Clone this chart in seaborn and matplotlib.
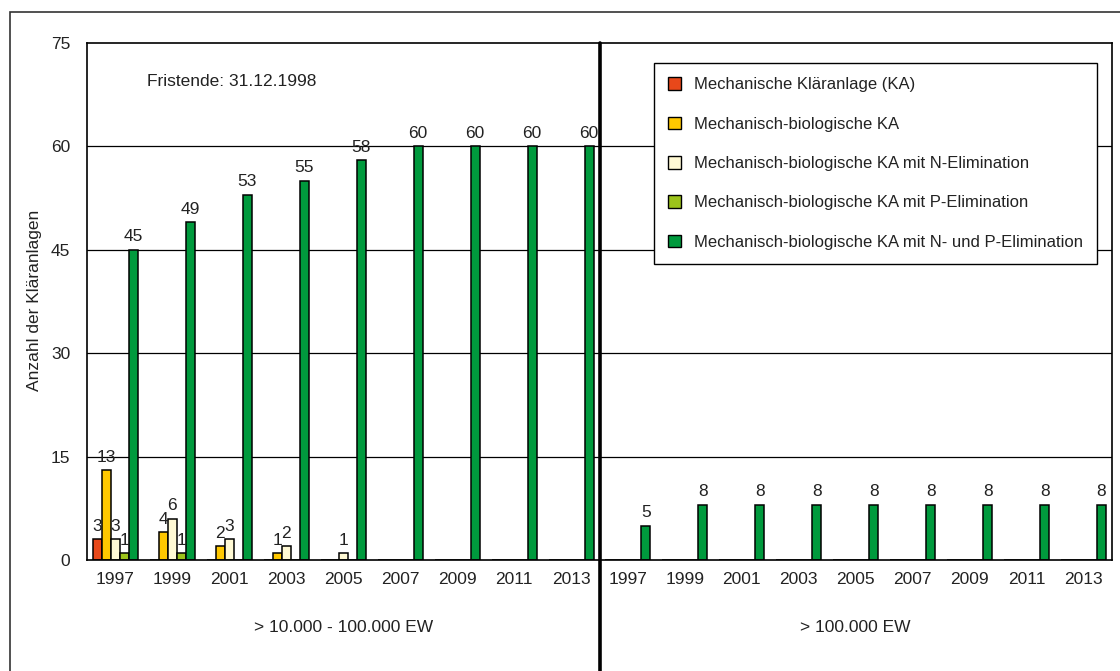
import numpy as np
import pandas as pd
import matplotlib
matplotlib.use("Agg")
import matplotlib.pyplot as plt
from matplotlib.patches import Patch, Rectangle
import seaborn as sns

# ---- data ----
years = ["1997", "1999", "2001", "2003", "2005", "2007", "2009", "2011", "2013"]
sections = ["> 10.000 - 100.000 EW", "> 100.000 EW"]
series = [
    "Mechanische Kläranlage (KA)",
    "Mechanisch-biologische KA",
    "Mechanisch-biologische KA mit N-Elimination",
    "Mechanisch-biologische KA mit P-Elimination",
    "Mechanisch-biologische KA mit N- und P-Elimination",
]
# section 1 (> 10.000 - 100.000 EW)
mech_1 = [3, 0, 0, 0, 0, 0, 0, 0, 0]
bio_1 = [13, 4, 2, 1, 0, 0, 0, 0, 0]
bio_n_1 = [3, 6, 3, 2, 1, 0, 0, 0, 0]
bio_p_1 = [1, 1, 0, 0, 0, 0, 0, 0, 0]
bio_np_1 = [45, 49, 53, 55, 58, 60, 60, 60, 60]
# section 2 (> 100.000 EW)
mech_2 = [0, 0, 0, 0, 0, 0, 0, 0, 0]
bio_2 = [0, 0, 0, 0, 0, 0, 0, 0, 0]
bio_n_2 = [0, 0, 0, 0, 0, 0, 0, 0, 0]
bio_p_2 = [0, 0, 0, 0, 0, 0, 0, 0, 0]
bio_np_2 = [5, 8, 8, 8, 8, 8, 8, 8, 8]

colors = ["#E8481A", "#FFC800", "#FFF9D4", "#9CC31B", "#009A3D"]

rows = []
keys = []
for s_idx, vals in enumerate([
    [mech_1, bio_1, bio_n_1, bio_p_1, bio_np_1],
    [mech_2, bio_2, bio_n_2, bio_p_2, bio_np_2],
]):
    for y_idx, yr in enumerate(years):
        key = f"{s_idx}_{yr}"
        keys.append(key)
        for ser, v in zip(series, vals):
            rows.append({"key": key, "series": ser, "value": v[y_idx]})
df = pd.DataFrame(rows)

sns.set_theme(style="white")
plt.rcParams["font.family"] = ["Liberation Sans Narrow", "Liberation Sans", "DejaVu Sans"]
FS = 12.5
TXT = "#222222"

fig = plt.figure(figsize=(11.2, 6.71), dpi=100)
ax = fig.add_axes([87 / 1120, 1 - 560 / 671, (1112 - 87) / 1120, (560 - 43) / 671])

sns.barplot(data=df, x="key", y="value", hue="series", order=keys, hue_order=series,
            palette=colors, width=0.79, saturation=1, edgecolor="black", linewidth=1.1,
            ax=ax, legend=False)

for cont in ax.containers:
    labels = [f"{int(round(b.get_height()))}" if b.get_height() > 0 else "" for b in cont]
    ax.bar_label(cont, labels=labels, padding=4, fontsize=FS, color=TXT)

ax.set_ylim(0, 75)
ax.set_xlim(-0.5, len(keys) - 0.5)
ax.set_yticks([0, 15, 30, 45, 60, 75])
ax.set_yticklabels(["0", "15", "30", "45", "60", "75"])
ax.set_xticks(np.arange(-0.5, len(keys), 1.0))
ax.set_xticklabels([])
ax.set_xticks(np.arange(len(keys)), minor=True)
ax.set_xticklabels(years + years, minor=True)
ax.tick_params(axis="x", which="major", direction="out", length=4, width=1, color="black")
ax.tick_params(axis="x", which="minor", length=0, pad=9, labelsize=FS, labelcolor=TXT)
ax.tick_params(axis="y", direction="out", length=5, width=1, color="black", pad=7,
               labelsize=FS, labelcolor=TXT)
ax.set_xlabel("")
ax.set_ylabel("Anzahl der Kläranlagen", fontsize=FS, color=TXT)
ax.yaxis.set_label_coords(-0.044, 0.503)

for yv in [15, 30, 45, 60]:
    ax.axhline(yv, color="black", linewidth=0.9, zorder=0)
for sp in ax.spines.values():
    sp.set_color("black")
    sp.set_linewidth(1.2)
    sp.set_visible(True)

# separator line
ax.plot([8.5, 8.5], [1.0, -0.3], transform=ax.get_xaxis_transform(), color="black",
        linewidth=2.6, clip_on=False, zorder=5)

# section labels
ax.text(4, -0.13, sections[0], transform=ax.get_xaxis_transform(), ha="center", va="center",
        fontsize=FS, color=TXT)
ax.text(13, -0.13, sections[1], transform=ax.get_xaxis_transform(), ha="center", va="center",
        fontsize=FS, color=TXT)

ax.text(0.059, 0.925, "Fristende: 31.12.1998", transform=ax.transAxes, ha="left", va="center",
        fontsize=FS, color=TXT)

handles = [Patch(facecolor=c, edgecolor="black", linewidth=1) for c in colors]
leg = ax.legend(handles, series, loc="upper right", bbox_to_anchor=(0.9854, 0.9613),
                frameon=True, fancybox=False, framealpha=1, edgecolor="black",
                fontsize=12, handlelength=0.8, handleheight=0.8, handletextpad=0.75,
                labelspacing=1.45, borderpad=0.85, borderaxespad=0)
leg.get_frame().set_linewidth(1.0)
for t in leg.get_texts():
    t.set_color(TXT)

# outer frame
fig.patches.append(Rectangle((10 / 1120, -0.2), 1.5, 1.2 - 12 / 671, transform=fig.transFigure,
                             fill=False, edgecolor="#333333", linewidth=1.2, clip_on=False))

fig.savefig("out.png", dpi=100)
